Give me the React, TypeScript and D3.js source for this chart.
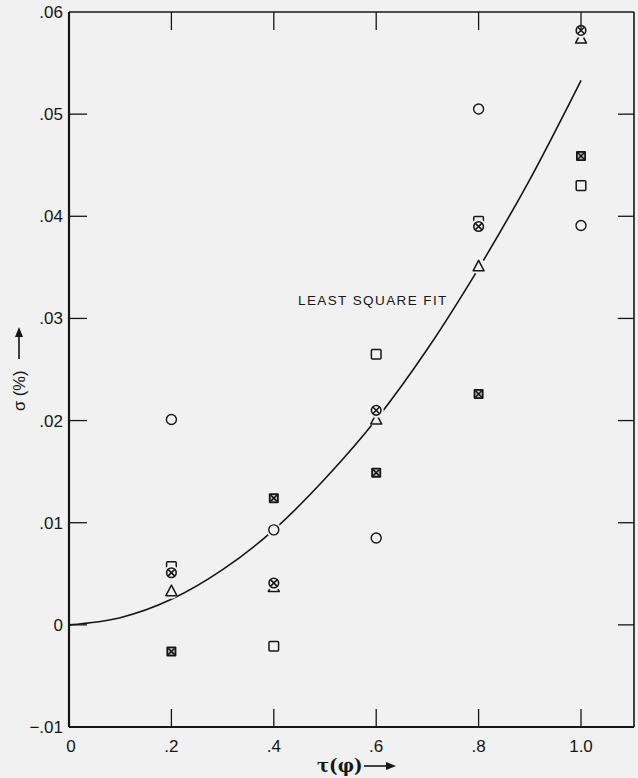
import React from 'react'
import * as d3 from 'd3'

// x positions of the measurements
const xs = [0.2, 0.4, 0.6, 0.8, 1.0]

// one array per marker type
const circleVals = [0.0201, 0.0093, 0.0085, 0.0505, 0.0391]
const squareVals = [0.0057, -0.0021, 0.0265, 0.0395, 0.043]
const triangleVals = [0.0033, 0.0037, 0.0201, 0.0351, 0.0574]
const circleXVals = [0.0051, 0.0041, 0.021, 0.039, 0.0582]
const squareXVals = [-0.0026, 0.0124, 0.0149, 0.0226, 0.0459]

// least square fit curve
const fitX = [0, 0.1, 0.2, 0.3, 0.4, 0.5, 0.6, 0.7, 0.8, 0.9, 1.0]
const fitY = [0, 0.0007, 0.0025, 0.0054, 0.0093, 0.0143, 0.0201, 0.027, 0.0349, 0.0436, 0.0533]

const xTicks = [0, 0.2, 0.4, 0.6, 0.8, 1.0]
const xTickLabels = ['0', '.2', '.4', '.6', '.8', '1.0']
const yTicks = [-0.01, 0, 0.01, 0.02, 0.03, 0.04, 0.05, 0.06]
const yTickLabels = ['−.01', '0', '.01', '.02', '.03', '.04', '.05', '.06']

const W = 638
const H = 778
const L = 69, R = 634, T = 12, B = 727
const bg = '#f1f1f1'
const ink = '#161616'
const font = 'Liberation Sans, Arial, sans-serif'

export default function App() {
  const x = d3.scaleLinear().domain([0, 1.1]).range([L, L + 1.1 * 512])
  const y = d3.scaleLinear().domain([-0.01, 0.06]).range([B, T])

  const fitLine = d3.line<number>()
    .x((d, i) => x(fitX[i]))
    .y(d => y(d))
    .curve(d3.curveMonotoneX)

  const mk = (kind: string, cx: number, cy: number, key: string) => {
    const s = 4.8
    const halo = <circle cx={cx} cy={cy} r={7.5} fill={bg} />
    let shape: React.ReactNode = null
    if (kind === 'circle') {
      shape = <circle cx={cx} cy={cy} r={5} fill={bg} stroke={ink} strokeWidth={1.4} />
    } else if (kind === 'square') {
      shape = <rect x={cx - s} y={cy - s} width={2 * s} height={2 * s} rx={1} fill={bg} stroke={ink} strokeWidth={1.5} />
    } else if (kind === 'triangle') {
      const p = [[cx, cy - 6], [cx + 5.5, cy + 4.5], [cx - 5.5, cy + 4.5]]
      shape = <polygon points={p.map(q => q.join(',')).join(' ')} fill={bg} stroke={ink} strokeWidth={1.5} strokeLinejoin="round" />
    } else if (kind === 'circleX') {
      const r = 4.8
      const k = r * 0.707
      shape = (
        <g stroke={ink} strokeWidth={1.6}>
          <circle cx={cx} cy={cy} r={r} fill={bg} />
          <line x1={cx - k} y1={cy - k} x2={cx + k} y2={cy + k} />
          <line x1={cx - k} y1={cy + k} x2={cx + k} y2={cy - k} />
        </g>
      )
    } else {
      const h = 5
      shape = (
        <g>
          <rect x={cx - h} y={cy - h} width={2 * h} height={2 * h} rx={1} fill={ink} />
          <rect x={cx - h + 1.8} y={cy - h + 1.8} width={2 * h - 3.6} height={2 * h - 3.6} fill="#bdbdbd" />
          <line x1={cx - h + 1.8} y1={cy - h + 1.8} x2={cx + h - 1.8} y2={cy + h - 1.8} stroke={ink} strokeWidth={1.5} />
          <line x1={cx - h + 1.8} y1={cy + h - 1.8} x2={cx + h - 1.8} y2={cy - h + 1.8} stroke={ink} strokeWidth={1.5} />
        </g>
      )
    }
    return (
      <g key={key}>
        {halo}
        {shape}
      </g>
    )
  }

  const series: [string, number[]][] = [
    ['circle', circleVals],
    ['square', squareVals],
    ['squareX', squareXVals],
    ['triangle', triangleVals],
    ['circleX', circleXVals],
  ]

  return (
    <svg width={W} height={H} style={{ position: 'absolute', left: 0, top: 0, background: bg }}>
      <rect x={0} y={0} width={W} height={H} fill={bg} />
      <path d={fitLine(fitY) || ''} fill="none" stroke={ink} strokeWidth={1.6} />

      {series.map(([kind, vals]) =>
        vals.map((v, i) => mk(kind, x(xs[i]), y(v), kind + i))
      )}

      {/* frame */}
      <line x1={L} y1={T} x2={L} y2={B} stroke={ink} strokeWidth={2.2} />
      <line x1={L} y1={B} x2={R} y2={B} stroke={ink} strokeWidth={2.2} />
      <line x1={L} y1={T} x2={R} y2={T} stroke={ink} strokeWidth={1.4} />
      <line x1={R} y1={T} x2={R} y2={B} stroke={ink} strokeWidth={1.6} />

      {xTicks.slice(1).map(t => (
        <g key={'xt' + t}>
          <line x1={x(t)} x2={x(t)} y1={B} y2={B - 18} stroke={ink} strokeWidth={1.3} />
          <line x1={x(t)} x2={x(t)} y1={T} y2={T + 18} stroke={ink} strokeWidth={1.3} />
        </g>
      ))}
      {yTicks.slice(1, -1).map(t => (
        <g key={'yt' + t}>
          <line x1={L} x2={L + 18} y1={y(t)} y2={y(t)} stroke={ink} strokeWidth={1.3} />
          <line x1={R} x2={R - 16} y1={y(t)} y2={y(t)} stroke={ink} strokeWidth={1.3} />
        </g>
      ))}

      {xTicks.map((t, i) => (
        <text key={'xl' + t} x={x(t) + (i === 0 ? 2 : 0)} y={B + 25} textAnchor="middle"
          fontFamily={font} fontSize={17} fill={ink}>{xTickLabels[i]}</text>
      ))}
      {yTicks.map((t, i) => (
        <text key={'yl' + t} x={L - 6} y={y(t) + 6} textAnchor="end"
          fontFamily={font} fontSize={17} fill={ink}>{yTickLabels[i]}</text>
      ))}

      <text x={298} y={305} fontFamily={font} fontSize={13.5} letterSpacing={1.4} fill={ink}>LEAST SQUARE FIT</text>

      {/* x axis title */}
      <g>
        <text x={317} y={772} fontFamily="DejaVu Serif, serif" fontSize={18} fontWeight="bold" fill={ink}>τ(φ)</text>
        <line x1={364} y1={766} x2={388} y2={766} stroke={ink} strokeWidth={1.6} />
        <path d="M386,762 L396,766 L386,770 Z" fill={ink} />
      </g>

      {/* y axis title */}
      <g transform="translate(25,411) rotate(-90)">
        <text x={0} y={0} fontFamily={font} fontSize={16.5} fill={ink}>σ (%)</text>
        <line x1={52} y1={-6} x2={76} y2={-6} stroke={ink} strokeWidth={1.6} />
        <path d="M74,-10 L84,-6 L74,-2 Z" fill={ink} />
      </g>
    </svg>
  )
}
